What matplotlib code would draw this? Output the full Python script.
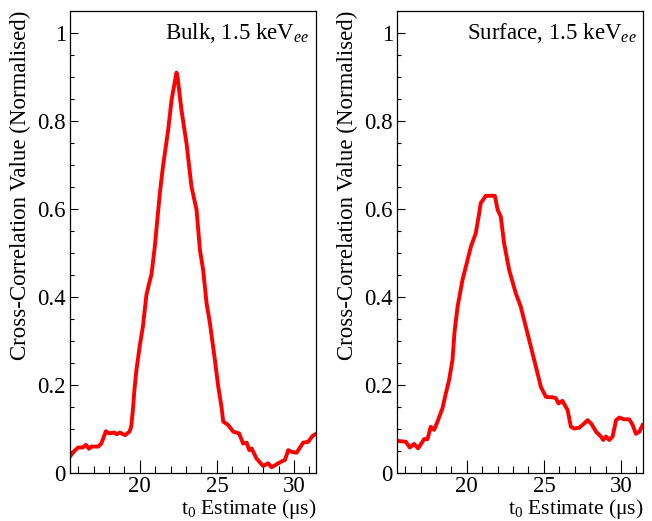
import matplotlib
matplotlib.use("Agg")
import matplotlib.pyplot as plt
from matplotlib.ticker import MultipleLocator, FormatStrFormatter

plt.rcParams['font.family'] = ['Liberation Serif', 'DejaVu Serif']
plt.rcParams['mathtext.fontset'] = 'custom'
plt.rcParams['mathtext.rm'] = 'Liberation Serif'
plt.rcParams['mathtext.it'] = 'Liberation Serif:italic'

# Bulk, 1.5 keVee
t_bulk = [15.5, 15.75, 16.0, 16.3, 16.5, 16.7, 16.85, 17.3, 17.5, 17.8, 18.0, 18.35, 18.5, 18.7,
          19.05, 19.33, 19.44, 19.55, 19.65, 19.78, 20.0, 20.2, 20.43, 20.6, 20.76, 20.97, 21.3,
          21.5, 21.84, 22.06, 22.38, 22.45, 22.7, 23.03, 23.35, 23.68, 23.9, 24.11, 24.33, 24.55,
          24.87, 25.09, 25.3, 25.41, 25.73, 26.06, 26.44, 26.7, 26.93, 27.1, 27.25, 27.57, 28.0,
          28.33, 28.55, 28.98, 29.42, 29.63, 29.85, 30.17, 30.6, 30.93, 31.2, 31.47]
v_bulk = [0.039, 0.05, 0.058, 0.058, 0.064, 0.055, 0.06, 0.06, 0.067, 0.095, 0.09, 0.092, 0.088, 0.092,
          0.086, 0.094, 0.105, 0.143, 0.189, 0.234, 0.29, 0.333, 0.405, 0.43, 0.452, 0.514, 0.636,
          0.696, 0.78, 0.848, 0.91, 0.9, 0.825, 0.749, 0.651, 0.598, 0.507, 0.461, 0.386, 0.34,
          0.257, 0.196, 0.15, 0.117, 0.109, 0.094, 0.09, 0.067, 0.069, 0.052, 0.056, 0.033, 0.016,
          0.022, 0.013, 0.022, 0.03, 0.052, 0.048, 0.046, 0.069, 0.071, 0.084, 0.09]

# Surface, 1.5 keVee
t_surf = [15.5, 16.04, 16.3, 16.58, 16.84, 17.23, 17.45, 17.66, 17.88, 18.1, 18.42, 18.64, 18.85,
          19.07, 19.2, 19.4, 19.72, 19.94, 20.26, 20.58, 20.8, 20.9, 21.23, 21.56, 21.82, 22.0,
          22.2, 22.42, 22.75, 23.18, 23.5, 23.94, 24.37, 24.7, 24.8, 25.13, 25.56, 25.78, 25.95,
          26.2, 26.54, 26.75, 26.97, 27.3, 27.5, 27.84, 28.1, 28.38, 28.7, 28.85, 29.03, 29.24,
          29.46, 29.68, 29.9, 30.2, 30.54, 30.76, 30.97, 31.2, 31.4]
v_surf = [0.073, 0.071, 0.058, 0.066, 0.056, 0.077, 0.077, 0.105, 0.098, 0.117, 0.147, 0.181, 0.211,
          0.257, 0.32, 0.378, 0.439, 0.469, 0.514, 0.545, 0.59, 0.613, 0.63, 0.63, 0.63, 0.598,
          0.583, 0.522, 0.461, 0.408, 0.378, 0.317, 0.257, 0.211, 0.196, 0.173, 0.172, 0.17, 0.158,
          0.164, 0.143, 0.105, 0.101, 0.103, 0.109, 0.12, 0.111, 0.094, 0.083, 0.075, 0.083, 0.075,
          0.083, 0.12, 0.126, 0.122, 0.122, 0.109, 0.089, 0.094, 0.109]

panels = [(t_bulk, v_bulk, r'Bulk, 1.5 keV$_{ee}$'),
          (t_surf, v_surf, r'Surface, 1.5 keV$_{ee}$')]

fig = plt.figure(figsize=(6.52, 5.21), dpi=100)
lefts = [70/652, 397/652]

for (t, v, label), left in zip(panels, lefts):
    ax = fig.add_axes([left, 48/521, 246/652, 462/521])
    ax.plot(t, v, color='#ff0000', lw=2.8)
    ax.set_xlim(15.47, 31.43)
    ax.set_ylim(0, 1.05)

    ax.xaxis.set_major_locator(MultipleLocator(5))
    ax.xaxis.set_minor_locator(MultipleLocator(1))
    ax.yaxis.set_major_locator(MultipleLocator(0.2))
    ax.yaxis.set_minor_locator(MultipleLocator(0.05))
    ax.yaxis.set_major_formatter(FormatStrFormatter('%g'))

    ax.tick_params(axis='both', which='both', direction='in', top=False, right=False,
                   labelsize=16.5, width=0.8)
    ax.tick_params(axis='x', which='major', length=9.5, pad=2.5)
    ax.tick_params(axis='x', which='minor', length=5)
    ax.tick_params(axis='y', which='major', length=6, pad=3)
    ax.tick_params(axis='y', which='minor', length=3)
    for s in ax.spines.values():
        s.set_linewidth(0.9)

    ax.set_ylabel('Cross-Correlation Value (Normalised)', fontsize=16.5, loc='top')
    ax.yaxis.set_label_coords(-0.16, 1.0)
    ax.set_xlabel(r't$_{\mathrm{0}}$ Estimate (μs)', fontsize=15.5, loc='right')
    ax.xaxis.set_label_coords(1.0, -0.051)

    ax.text(0.975, 1.0 / 1.05, label, transform=ax.transAxes, ha='right', va='center',
            fontsize=16.5)

fig.savefig('out.png', dpi=100)
